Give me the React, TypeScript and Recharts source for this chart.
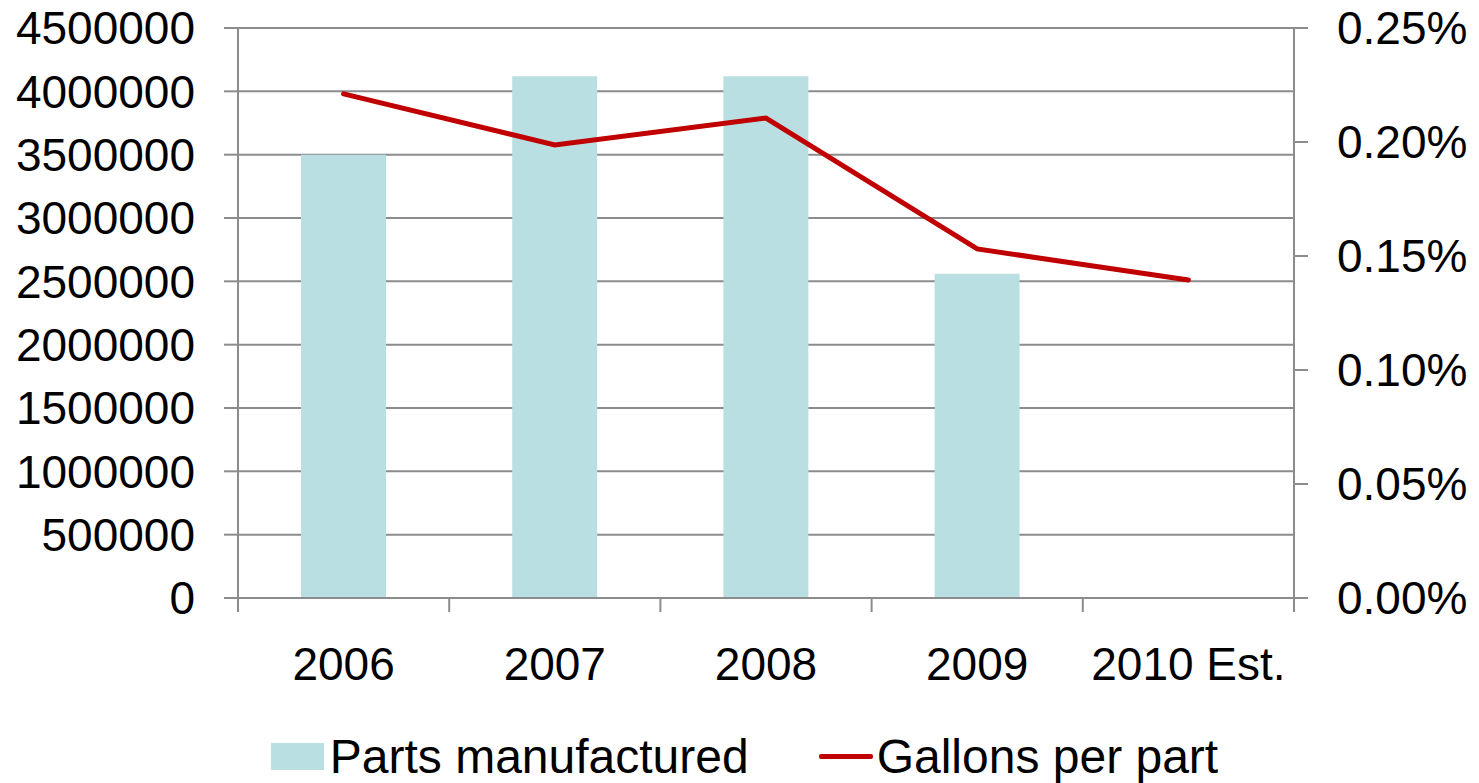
import React from 'react';
import { ComposedChart, Bar, Line, XAxis, YAxis, CartesianGrid, Legend } from 'recharts';

const categories = ['2006', '2007', '2008', '2009', '2010 Est.'];
const partsManufactured: (number | null)[] = [3500000, 4120000, 4120000, 2560000, null];
const gallonsPerPart = [0.002211, 0.001987, 0.002105, 0.001531, 0.001395];
const leftTicks = [0, 500000, 1000000, 1500000, 2000000, 2500000, 3000000, 3500000, 4000000, 4500000];
const rightTicks = [0, 0.0005, 0.001, 0.0015, 0.002, 0.0025];

const data = categories.map((c, i) => ({
  name: c,
  parts: partsManufactured[i],
  gallons: gallonsPerPart[i],
}));

const FONT = '"Liberation Sans", Arial, sans-serif';
const GRID = '#8c8c8c';
const BAR = '#b9dfe2';
const LINE = '#c00000';
const W = 1479;
const H = 783;
const PLOT_LEFT = 238;
const PLOT_RIGHT = 1294;
const BAND = (PLOT_RIGHT - PLOT_LEFT) / categories.length;

const XTick = (props: any) => {
  const { x, y, payload, index } = props;
  const axisY = y - 49;
  const left = x - BAND / 2;
  const right = x + BAND / 2;
  return (
    <g>
      <line x1={left} y1={axisY} x2={left} y2={axisY + 14} stroke={GRID} strokeWidth={2} />
      {index === categories.length - 1 && (
        <line x1={right} y1={axisY} x2={right} y2={axisY + 14} stroke={GRID} strokeWidth={2} />
      )}
      <text x={x} y={y} dy="0.71em" textAnchor="middle" fill="#000" fontSize={46} fontFamily={FONT}>
        {payload.value}
      </text>
    </g>
  );
};

const LegendContent = () => (
  <div
    style={{
      display: 'flex',
      justifyContent: 'center',
      alignItems: 'center',
      height: 75,
      paddingTop: 22,
      boxSizing: 'border-box',
      fontFamily: FONT,
      fontSize: 48,
      color: '#000',
      paddingLeft: 10,
    }}
  >
    <div style={{ display: 'flex', alignItems: 'center' }}>
      <span style={{ display: 'inline-block', width: 53, height: 27, background: BAR, marginRight: 6 }} />
      <span>Parts manufactured</span>
    </div>
    <div style={{ display: 'flex', alignItems: 'center', marginLeft: 70 }}>
      <span style={{ display: 'inline-block', width: 54, height: 5, background: LINE, marginRight: 4, borderRadius: 2 }} />
      <span>Gallons per part</span>
    </div>
  </div>
);

export default function App() {
  return (
    <div style={{ position: 'absolute', left: 0, top: 0, width: W, height: H, background: '#fff' }}>
      <ComposedChart
        width={W}
        height={H}
        data={data}
        margin={{ top: 28, right: 0, bottom: 0, left: 0 }}
        barCategoryGap={0}
      >
        <CartesianGrid yAxisId="left" vertical={false} stroke={GRID} strokeWidth={2} />
        <XAxis
          dataKey="name"
          height={110}
          tickLine={false}
          axisLine={{ stroke: GRID, strokeWidth: 2 }}
          tickSize={14}
          tickMargin={35}
          tick={<XTick />}
          interval={0}
        />
        <YAxis
          yAxisId="left"
          orientation="left"
          width={PLOT_LEFT}
          domain={[0, 4500000]}
          ticks={leftTicks}
          interval={0}
          tickSize={14}
          tickMargin={29}
          axisLine={{ stroke: GRID, strokeWidth: 2 }}
          tickLine={{ stroke: GRID, strokeWidth: 2 }}
          tick={{ fill: '#000', fontSize: 46, fontFamily: FONT }}
        />
        <YAxis
          yAxisId="right"
          orientation="right"
          width={W - PLOT_RIGHT}
          domain={[0, 0.0025]}
          ticks={rightTicks}
          interval={0}
          tickSize={14}
          tickMargin={29}
          tickFormatter={(v: number) => (v * 100).toFixed(2) + '%'}
          axisLine={{ stroke: GRID, strokeWidth: 2 }}
          tickLine={{ stroke: GRID, strokeWidth: 2 }}
          tick={{ fill: '#000', fontSize: 46, fontFamily: FONT }}
        />
        <Legend verticalAlign="bottom" height={75} content={<LegendContent />} />
        <Bar yAxisId="left" dataKey="parts" fill={BAR} barSize={85} isAnimationActive={false} />
        <Line
          yAxisId="right"
          dataKey="gallons"
          stroke={LINE}
          strokeWidth={5}
          strokeLinecap="round"
          dot={false}
          activeDot={false}
          type="linear"
          isAnimationActive={false}
        />
      </ComposedChart>
    </div>
  );
}
